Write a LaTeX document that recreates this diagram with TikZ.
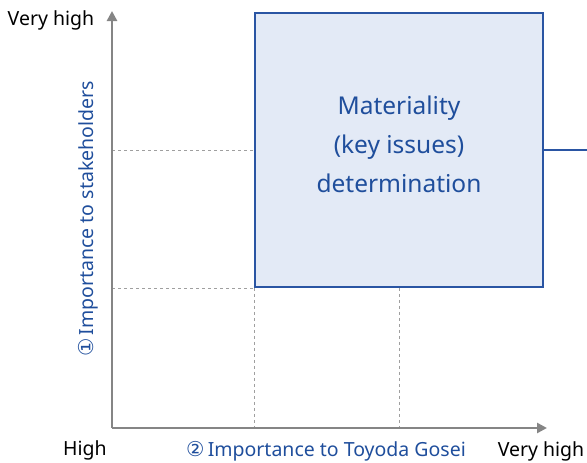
\documentclass[tikz,border=0pt]{standalone}
\usepackage{fontspec}
\setmainfont{Noto Sans}
\newfontfamily\circfont{DejaVu Sans}
\usetikzlibrary{arrows.meta}
\definecolor{matblue}{HTML}{1F4E9C}
\definecolor{matedge}{HTML}{2A55A3}
\definecolor{matfill}{HTML}{E3EAF6}
\definecolor{axisgray}{HTML}{858585}

\begin{document}
\begin{tikzpicture}[x=1pt, y=-1pt, axis/.style = {draw=axisgray, line width=2.6pt, -{Triangle[length=10pt,width=10pt]}}, guide/.style = {draw=gray!75, dashed, line width=0.8pt}, lbl/.style = {font=\fontsize{19.5}{22}\selectfont, inner sep=0pt}, matbox/.style = {draw=matedge, fill=matfill, line width=1.8pt, minimum width=288pt, minimum height=274pt}, mattext/.style = {text=matblue, align=center, font=\fontsize{24.5}{39}\selectfont}] 
        \useasboundingbox (0,0) rectangle (587,463);
        \coordinate (o) at (112,428);
        \coordinate (ytop) at (112,11);
        \coordinate (xend) at (547,428);
        \coordinate (out) at (587,150);
        \node[matbox] (mat) at (399,150) {};
        \node[mattext] (mattxt) at ([yshift=6pt]mat.center) {Materiality\\(key issues)\\determination};
        \draw[guide] (o |- mat.west) -- (mat.west);
        \draw[guide] (o |- mat.south west) -- (mat.south west);
        \draw[guide] (mat.south west) -- (mat.south west |- o);
        \draw[guide] (mat.south) -- (mat.south |- o);
        \draw[matedge, line width=1.8pt] (mat.east) -- (out);
        \draw[axis] (o) -- (ytop);
        \draw[axis] (o) -- (xend);
        \node[lbl] (vhy) at (51,20) {Very high};
        \node[lbl] (hi) at (85,450) {High};
        \node[lbl] (vhx) at (541,451) {Very high};
        \node[lbl, text=matblue] (xlab) at (326,451) {{\circfont\fontsize{20.5}{22}\selectfont ②}\,Importance to Toyoda Gosei};
        \node[lbl, text=matblue, rotate=90] (ylab) at (88,219) {{\circfont\fontsize{20.5}{22}\selectfont ①}\,Importance to stakeholders};
    \end{tikzpicture}
\end{document}
